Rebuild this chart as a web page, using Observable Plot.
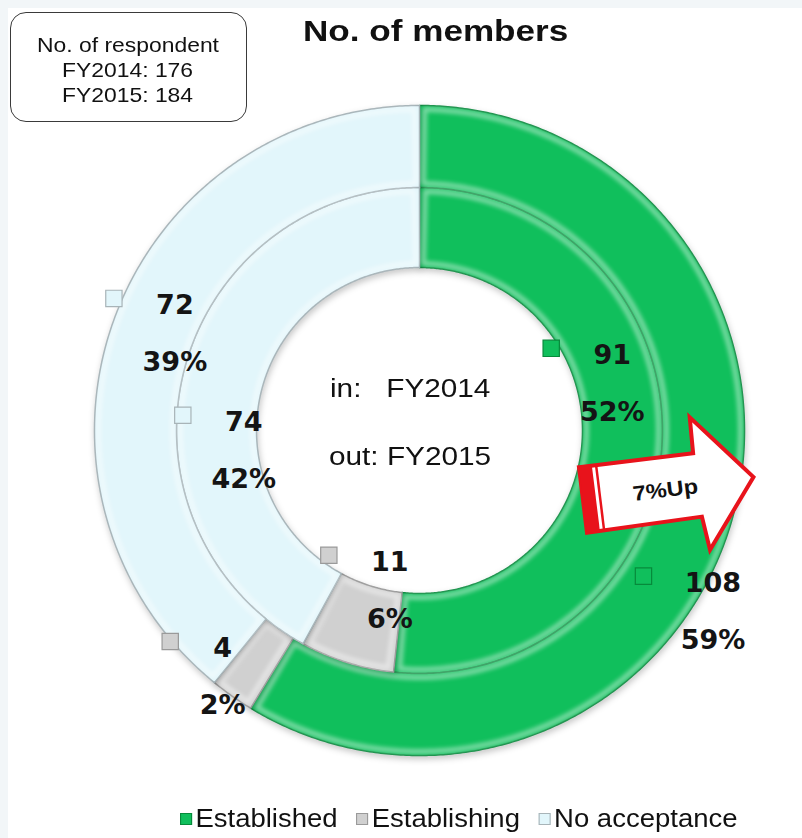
<!DOCTYPE html>
<html>
<head>
<meta charset="utf-8">
<script src="https://cdn.jsdelivr.net/npm/d3@7"></script>
<script src="https://cdn.jsdelivr.net/npm/@observablehq/plot@0.6"></script>
<style>
  html, body { margin: 0; padding: 0; background: #ffffff; }
  #wrap { position: relative; width: 802px; height: 838px; overflow: hidden; background: #ffffff;
          font-family: "Liberation Sans", Arial, sans-serif; color: #111; }
  .band-top { position: absolute; left: 0; top: 0; width: 802px; height: 8px; background: #f2f6f8; }
  .band-left { position: absolute; left: 0; top: 0; width: 8px; height: 838px; background: #f2f6f8; }
  #chart { position: absolute; left: 0; top: 0; }
  .stretch { position: absolute; white-space: pre; transform-origin: 0 0; }
  #box { position: absolute; left: 10px; top: 12px; width: 235px; height: 108px; border: 1.5px solid #3a3a3a;
         border-radius: 16px; background: #fff; }
  #legend { position: absolute; left: 180px; top: 804px; display: flex; align-items: center; white-space: nowrap;
            font-size: 25px; transform: scaleX(1.1); transform-origin: 0 50%; }
  #legend .item { display: flex; align-items: center; margin-right: 17px; }
  #legend .sw { width: 11px; height: 12px; margin-right: 3px; box-sizing: border-box; }
</style>
</head>
<body>
<div id="wrap">
  <div class="band-top"></div>
  <div class="band-left"></div>
  <div id="chart"></div>
  <div id="box"></div>
  <div id="overlay"></div>
  <div id="legend"></div>
</div>
<script>
// ---------- data ----------
const categories = ["Established", "Establishing", "No acceptance"];
const years = ["FY2014", "FY2015"];
const fy2014 = [91, 11, 74];
const fy2015 = [108, 4, 72];
const respondents = [176, 184];
const titleText = "No. of members";
const changeLabel = "7%Up";

// ---------- styling / layout (not data) ----------
const fills = ["#10bf5c", "#d0d0d0", "#e2f6fb"];
const edges = ["#088a3d", "#949494", "#a0aeb3"];
const swatchEdges = ["#078a3b", "#9a9a9a", "#a8b4b8"];
const ringRadii = { FY2014: [163, 243], FY2015: [243, 325] };   // inner ring = FY2014, outer ring = FY2015
// label shifts (px) from each slice's centroid, as placed in the original
const labelShift = {
  FY2014: [[-10, -86], [31, -62], [21, 42]],
  FY2015: [[20, 76], [-33, -14], [23, -30]]
};
const bevelInset = 4;

const seriesByYear = { FY2014: fy2014, FY2015: fy2015 };

// ---------- geometry from data ----------
const arcPts = [];
const bevelPts = [];
const labels = [];
function pushArc(target, key, cat, a0, a1, r0, r1) {
  const n = Math.max(2, Math.ceil((a1 - a0) / (Math.PI / 360)));
  for (let k = 0; k <= n; k++) {
    const t = a0 + (a1 - a0) * k / n;
    target.push({ key, cat, x: r1 * Math.sin(t), y: -r1 * Math.cos(t) });
  }
  for (let k = n; k >= 0; k--) {
    const t = a0 + (a1 - a0) * k / n;
    target.push({ key, cat, x: r0 * Math.sin(t), y: -r0 * Math.cos(t) });
  }
}
years.forEach(year => {
  const values = seriesByYear[year];
  const total = d3.sum(values);
  const [r0, r1] = ringRadii[year];
  let a = 0;
  values.forEach((v, i) => {
    const a0 = a, a1 = a + v / total * 2 * Math.PI;
    a = a1;
    const key = year + "-" + i;
    pushArc(arcPts, key, categories[i], a0, a1, r0, r1);
    const ri = r0 + bevelInset, ro = r1 - bevelInset;
    const da = bevelInset / ri;
    if (a1 - a0 > 3 * da) pushArc(bevelPts, key, categories[i], a0 + da, a1 - da, ri, ro);
    const am = (a0 + a1) / 2, rm = (r0 + r1) / 2;
    const [sx, sy] = labelShift[year][i];
    const nx = rm * Math.sin(am) + sx, ny = -rm * Math.cos(am) + sy;
    const digits = String(v).length;
    labels.push({
      year, cat: categories[i], value: v, pct: Math.round(v / total * 100),
      nx, ny, py: ny + 57, mx: nx - 44 - 8.5 * digits, my: ny - 7
    });
  });
});

// ---------- chart ----------
const marks = [];
categories.forEach((c, i) => {
  marks.push(Plot.line(arcPts.filter(d => d.cat === c), {
    x: "x", y: "y", z: "key", fill: "cat", stroke: edges[i], strokeWidth: 1.5,
    curve: "linear-closed"
  }));
});
marks.push(Plot.line(bevelPts, {
  x: "x", y: "y", z: "key", stroke: "#ffffff", strokeOpacity: 0.45, strokeWidth: 5,
  curve: "linear-closed", fill: "none"
}));
categories.forEach((c, i) => {
  marks.push(Plot.dot(labels.filter(d => d.cat === c), {
    x: "mx", y: "my", symbol: "square", r: 9.2, fill: "cat", stroke: swatchEdges[i], strokeWidth: 1.2
  }));
});
marks.push(Plot.text(labels, {
  x: "nx", y: "ny", text: d => String(d.value), fontSize: 27, fontWeight: "bold",
  fontFamily: "DejaVu Sans", fill: "#141414"
}));
marks.push(Plot.text(labels, {
  x: "nx", y: "py", text: d => d.pct + "%", fontSize: 27, fontWeight: "bold",
  fontFamily: "DejaVu Sans", fill: "#141414"
}));

const svg = Plot.plot({
  width: 802, height: 838, margin: 0,
  x: { domain: [-419, 383], range: [0, 802], axis: null },
  y: { domain: [-430, 408], range: [0, 838], axis: null },
  color: { domain: categories, range: fills },
  style: { background: "transparent", overflow: "visible" },
  marks
});
document.getElementById("chart").appendChild(svg);
svg.querySelectorAll('g[aria-label="line"]').forEach((g, i) => {
  if (i < categories.length) g.style.filter = "drop-shadow(1px 3px 3px rgba(0,0,0,0.22))";
  else g.style.filter = "blur(2px)";
});

// ---------- overlays: title, respondent box, centre text, arrow ----------
const overlay = document.getElementById("overlay");
function addText(txt, left, baseline, size, sx, weight, anchor) {
  const el = document.createElement("div");
  el.className = "stretch";
  el.textContent = txt;
  el.style.fontSize = size + "px";
  el.style.lineHeight = "1";
  el.style.fontWeight = weight || "normal";
  overlay.appendChild(el);
  const w = el.getBoundingClientRect().width;  // unscaled width
  const ascent = size * 0.905;
  let x = left;
  if (anchor === "middle") x = left - w * sx / 2;
  el.style.left = x + "px";
  el.style.top = (baseline - ascent) + "px";
  el.style.transform = `scaleX(${sx})`;
  return el;
}
addText(titleText, 436, 43.5, 30, 1.17, "bold", "middle");
addText("No. of respondent", 128, 53.5, 21, 1.09, "normal", "middle");
addText(`${years[0]}: ${respondents[0]}`, 128, 78.5, 21, 1.09, "normal", "middle");
addText(`${years[1]}: ${respondents[1]}`, 128, 103.5, 21, 1.09, "normal", "middle");
addText(`in:   ${years[0]}`, 330, 399, 25, 1.19, "normal", "start");
addText(`out: ${years[1]}`, 329, 467, 25, 1.19, "normal", "start");

// arrow annotation
const NS = "http://www.w3.org/2000/svg";
const arr = document.createElementNS(NS, "svg");
arr.setAttribute("width", 802); arr.setAttribute("height", 838);
arr.style.position = "absolute"; arr.style.left = "0"; arr.style.top = "0";
arr.innerHTML = `
<g transform="translate(583,500) rotate(-7)">
  <polygon points="0,-33 115,-33 116,-69 172,-2 120,65 116,31 0,33" fill="#ffffff" stroke="#e8131b" stroke-width="4" stroke-linejoin="miter"/>
  <rect x="0" y="-33" width="13" height="66" fill="#e8131b"/>
  <rect x="16" y="-33" width="2.5" height="66" fill="#e8131b"/>
  <text x="83" y="0" text-anchor="middle" dominant-baseline="central" font-family="Liberation Sans, Arial" font-weight="bold" font-size="21" fill="#111" transform="translate(83,0) scale(1.12,1) translate(-83,0)">${changeLabel}</text>
</g>`;
overlay.appendChild(arr);

// legend
const legend = document.getElementById("legend");
categories.forEach((c, i) => {
  const item = document.createElement("div");
  item.className = "item";
  const sw = document.createElement("span");
  sw.className = "sw";
  sw.style.background = fills[i];
  sw.style.border = `1px solid ${swatchEdges[i]}`;
  const t = document.createElement("span");
  t.textContent = c;
  item.appendChild(sw); item.appendChild(t);
  legend.appendChild(item);
});
</script>
</body>
</html>
